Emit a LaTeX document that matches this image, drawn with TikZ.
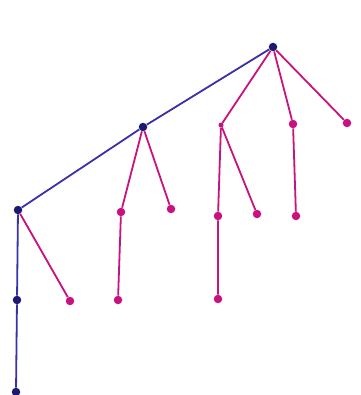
\documentclass[tikz,border=0pt]{standalone}
\definecolor{navy}{HTML}{1C1A70}
\definecolor{blueline}{HTML}{3A30A8}
\definecolor{mag}{HTML}{C8137E}
\begin{document}
\begin{tikzpicture}[x=1pt,y=-1pt,
  bdot/.style={circle,fill=navy,inner sep=0pt,minimum size=8.5pt},
  mdot/.style={circle,fill=mag,inner sep=0pt,minimum size=8.5pt},
  sdot/.style={circle,fill=mag,inner sep=0pt,minimum size=5pt},
  bl/.style={draw=blueline,line width=1.8pt},
  ml/.style={draw=mag,line width=1.8pt}]
\useasboundingbox (0,0) rectangle (360,395);
\node[bdot] (a) at (273,47) {};
\node[bdot] (b) at (143,127) {};
\node[bdot] (c) at (18,210) {};
\node[bdot] (d) at (17,300) {};
\node[bdot] (e) at (16,392) {};
\node[mdot] (c1) at (70,301) {};
\node[mdot] (b1) at (121,212) {};
\node[mdot] (b2) at (171,209) {};
\node[mdot] (b11) at (118,300) {};
\node[sdot] (a1) at (221,125) {};
\node[mdot] (a2) at (293,124) {};
\node[mdot] (a3) at (347,123) {};
\node[mdot] (a11) at (218,216) {};
\node[mdot] (a12) at (257,214) {};
\node[mdot] (a111) at (218,299) {};
\node[mdot] (a21) at (296,216) {};
\path[bl] (a) -- (b) -- (c) -- (d) -- (e);
\path[ml] (c) -- (c1);
\path[ml] (b) -- (b1) -- (b11);
\path[ml] (b) -- (b2);
\path[ml] (a) -- (a1) -- (a11) -- (a111);
\path[ml] (a1) -- (a12);
\path[ml] (a) -- (a2) -- (a21);
\path[ml] (a) -- (a3);
\end{tikzpicture}
\end{document}
